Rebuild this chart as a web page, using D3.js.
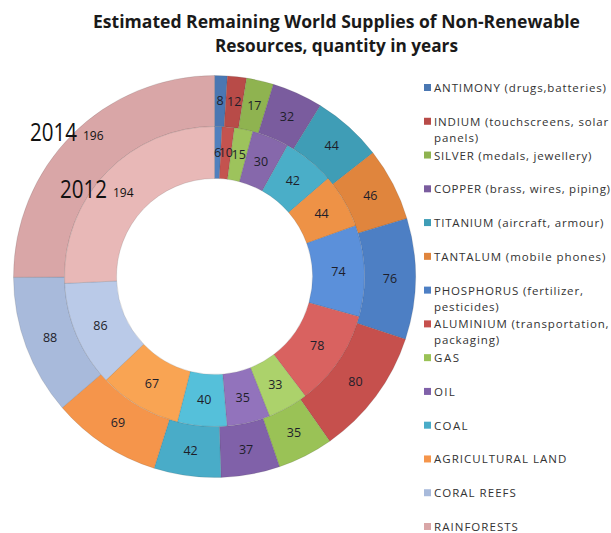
<!DOCTYPE html>
<html><head><meta charset="utf-8">
<script src="https://cdn.jsdelivr.net/npm/d3@7"></script>
<style>body{margin:0;background:#fff;} svg{display:block;}</style>
</head><body>
<svg id="c" width="611" height="533"></svg>
<script>
const categories = ["ANTIMONY (drugs,batteries)","INDIUM (touchscreens, solar panels)","SILVER (medals, jewellery)","COPPER (brass, wires, piping)","TITANIUM (aircraft, armour)","TANTALUM (mobile phones)","PHOSPHORUS (fertilizer, pesticides)","ALUMINIUM (transportation, packaging)","GAS","OIL","COAL","AGRICULTURAL LAND","CORAL REEFS","RAINFORESTS"];
const legendLines = [["ANTIMONY (drugs,batteries)"],["INDIUM (touchscreens, solar","panels)"],["SILVER (medals, jewellery)"],["COPPER (brass, wires, piping)"],["TITANIUM (aircraft, armour)"],["TANTALUM (mobile phones)"],["PHOSPHORUS (fertilizer,","pesticides)"],["ALUMINIUM (transportation,","packaging)"],["GAS"],["OIL"],["COAL"],["AGRICULTURAL LAND"],["CORAL REEFS"],["RAINFORESTS"]];
const values2014 = [8,12,17,32,44,46,76,80,35,37,42,69,88,196];
const values2012 = [6,10,15,30,42,44,74,78,33,35,40,67,86,194];
const outerColors = ["#4A77B2","#B84B48","#8FB350","#7A5C9E","#3F9DB6","#E0853D","#4D7FC4","#C6504D","#9AC256","#8061A9","#49ACC8","#F5954B","#A8BADB","#D9A6A7"];
const innerColors = ["#5080BE","#C4534F","#9DC35C","#8668AB","#4AAEC8","#EE9246","#5B90DA","#D96260","#ACD26B","#9273BC","#55C0DA","#F9A453","#BACAE8","#E8B8B7"];
const title = ["Estimated Remaining World Supplies of Non-Renewable","Resources, quantity in years"];
const yearLabels = ["2014","2012"];

const svg = d3.select("#c");
const cx = 214.5, cy = 276.5;
const rHole = 98, rMid = 150, rOut = 201;
const titleFont = "'Open Sans', sans-serif";

// title
svg.append("text").attr("x",336.5).attr("y",52).attr("text-anchor","middle")
  .attr("font-family",titleFont).attr("font-weight","bold").attr("font-size",17)
  .attr("fill","#1a1a1a").attr("textLength",243).attr("lengthAdjust","spacingAndGlyphs").text(title[1]);
svg.append("text").attr("x",336.5).attr("y",28).attr("text-anchor","middle")
  .attr("font-family",titleFont).attr("font-weight","bold").attr("font-size",17)
  .attr("fill","#1a1a1a").attr("textLength",487).attr("lengthAdjust","spacingAndGlyphs").text(title[0]);

const pie = d3.pie().sort(null).value(d=>d);
const g = svg.append("g").attr("transform",`translate(${cx},${cy})`);

function ring(values, r0, r1, colors, skipLast){
  const arcs = pie(values);
  const arc = d3.arc().innerRadius(r0).outerRadius(r1);
  g.append("g").selectAll("path").data(arcs).join("path")
    .attr("d",arc).attr("fill",(d,i)=>colors[i])
    .attr("stroke","rgba(60,60,60,0.25)").attr("stroke-width",0.6);
  g.append("g").selectAll("text").data(arcs.filter((d,i)=>!(skipLast && i===values.length-1))).join("text")
    .attr("transform",d=>`translate(${arc.centroid(d)})`)
    .attr("text-anchor","middle").attr("dy","0.35em")
    .attr("font-family","'Open Sans', sans-serif").attr("font-size",12.5).attr("fill","#1e1e2a")
    .text(d=>d.data);
}
ring(values2014, rMid, rOut, outerColors, true);
ring(values2012, rHole, rMid, innerColors, true);

// year labels with rainforest values
const yl = svg.append("g").attr("font-family","'Open Sans', sans-serif").attr("fill","#111");
yl.append("text").attr("x",30).attr("y",141).attr("font-size",25).attr("textLength",47).attr("lengthAdjust","spacingAndGlyphs").text(yearLabels[0]);
yl.append("text").attr("x",83).attr("y",140).attr("font-size",12).text(values2014[13]);
yl.append("text").attr("x",60).attr("y",198).attr("font-size",25).attr("textLength",47).attr("lengthAdjust","spacingAndGlyphs").text(yearLabels[1]);
yl.append("text").attr("x",113).attr("y",197).attr("font-size",12).text(values2012[13]);

// legend
const lg = svg.append("g").attr("font-family","'Open Sans', sans-serif").attr("font-size",11.5).attr("fill","#333");
const ly = d3.scaleLinear().domain([0,13]).range([88,527]);
let factor = null;
legendLines.forEach((lines,i)=>{
  const y = ly(i);
  lg.append("rect").attr("x",424).attr("y",y-4).attr("width",7).attr("height",7).attr("fill",outerColors[i]);
  lines.forEach((t,j)=>{
    const tx = lg.append("text").attr("x",434).attr("y",y+4+j*16).text(t);
    const w = tx.node().getComputedTextLength();
    if (factor === null) factor = 172 / w;
    tx.attr("textLength", Math.min(w*factor, 176)).attr("lengthAdjust","spacing");
  });
});
</script>
</body></html>
